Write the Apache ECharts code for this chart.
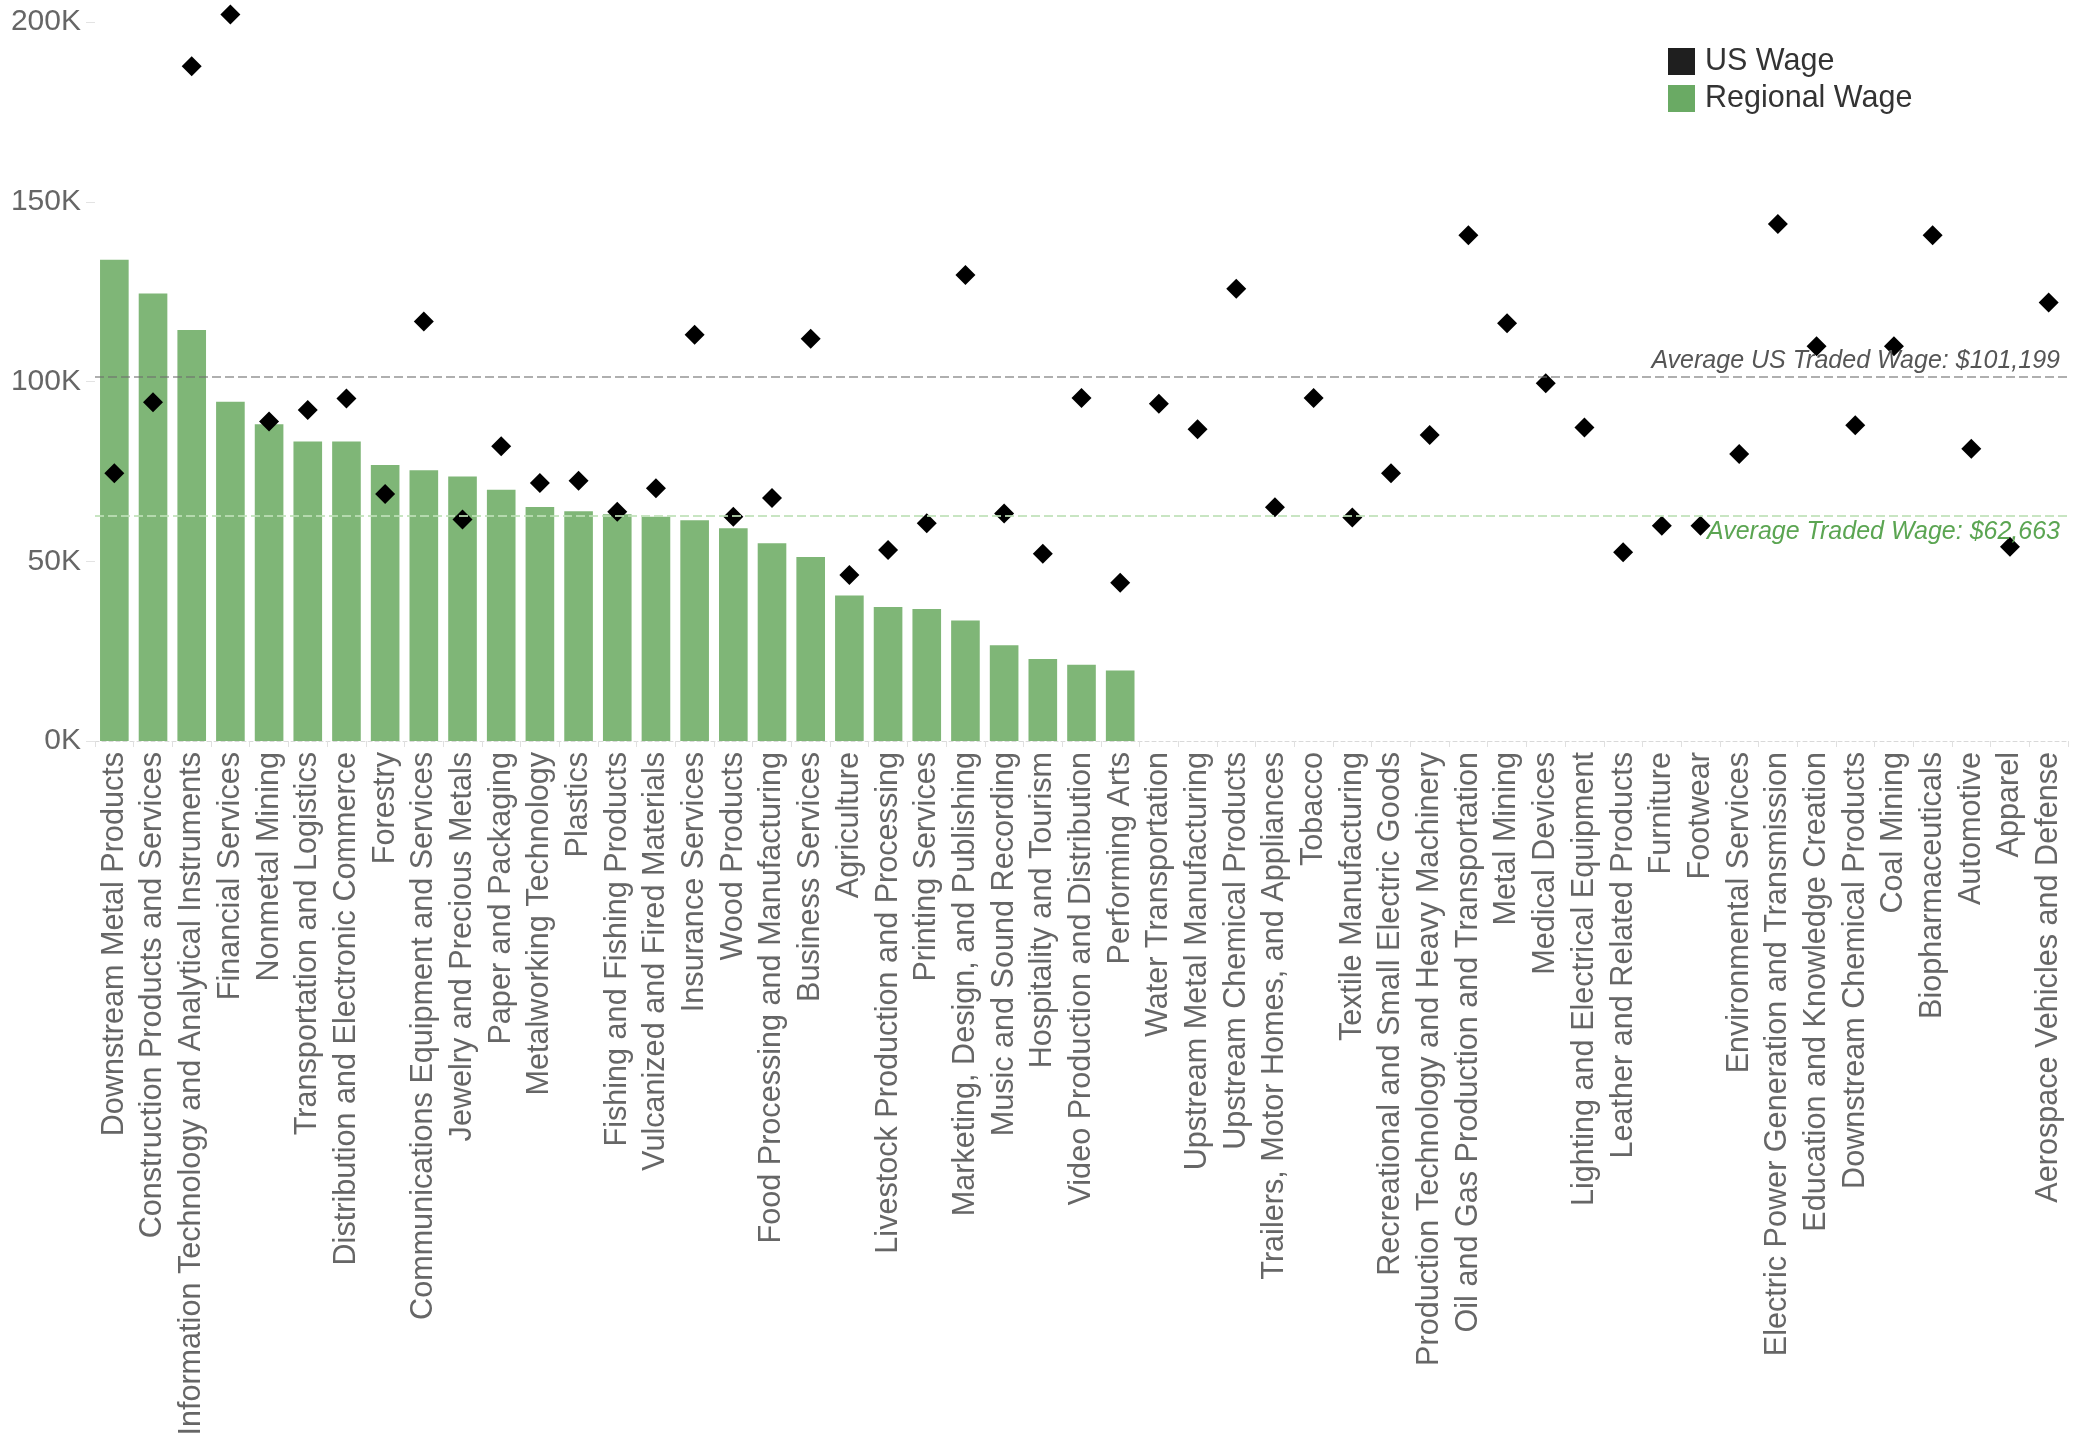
<!DOCTYPE html>
<html>
<head>
<meta charset="utf-8">
<title>Regional vs US Wage by Cluster</title>
<script src="https://cdn.jsdelivr.net/npm/echarts@6/dist/echarts.min.js"></script>
<style>
  html, body { margin: 0; padding: 0; background: #fff; }
  #main { width: 2074px; height: 1440px; }
</style>
</head>
<body>
<div id="main"></div>
<script>
// cluster names, in the order they sit on the x axis
const clusters = [
  'Downstream Metal Products', 'Construction Products and Services',
  'Information Technology and Analytical Instruments', 'Financial Services',
  'Nonmetal Mining', 'Transportation and Logistics',
  'Distribution and Electronic Commerce', 'Forestry',
  'Communications Equipment and Services', 'Jewelry and Precious Metals',
  'Paper and Packaging', 'Metalworking Technology', 'Plastics',
  'Fishing and Fishing Products', 'Vulcanized and Fired Materials',
  'Insurance Services', 'Wood Products', 'Food Processing and Manufacturing',
  'Business Services', 'Agriculture', 'Livestock Production and Processing',
  'Printing Services', 'Marketing, Design, and Publishing',
  'Music and Sound Recording', 'Hospitality and Tourism',
  'Video Production and Distribution', 'Performing Arts',
  'Water Transportation', 'Upstream Metal Manufacturing',
  'Upstream Chemical Products', 'Trailers, Motor Homes, and Appliances',
  'Tobacco', 'Textile Manufacturing', 'Recreational and Small Electric Goods',
  'Production Technology and Heavy Machinery',
  'Oil and Gas Production and Transportation', 'Metal Mining',
  'Medical Devices', 'Lighting and Electrical Equipment',
  'Leather and Related Products', 'Furniture', 'Footwear',
  'Environmental Services', 'Electric Power Generation and Transmission',
  'Education and Knowledge Creation', 'Downstream Chemical Products',
  'Coal Mining', 'Biopharmaceuticals', 'Automotive', 'Apparel',
  'Aerospace Vehicles and Defense'
]

// regional wage (only the first 27 clusters have one)
const regionalWage = [
  133900, 124500, 114300, 94400, 88100, 83300, 83300, 76800, 75300, 73600,
  69900, 65100, 63900, 63100, 62400, 61400, 59200, 55000, 51200, 40500,
  37300, 36700, 33500, 26600, 22800, 21200, 19600
]

// US wage for every cluster
const usWage = [
  74500, 94200, 187700, 202100, 88900, 92100, 95300, 68700, 116700, 61600,
  82000, 71800, 72400, 63800, 70300, 113000, 62400, 67600, 111900, 46200,
  53100, 60600, 129600, 63300, 52100, 95400, 44000, 93800, 86700, 125800,
  65000, 95400, 62200, 74500, 85100, 140700, 116200, 99500, 87200, 52500,
  59900, 59900, 79800, 143800, 109800, 87800, 109800, 140700, 81300, 54000,
  122000
]

const avgUsTradedWage = 101199
const avgTradedWage = 62663

const yTicks = [0, 50000, 100000, 150000, 200000]

const fontFamily = "'Liberation Sans', Arial, sans-serif"

const chart = echarts.init(document.getElementById('main'))

const option = {
  backgroundColor: '#fff',
  animation: false,
  textStyle: { fontFamily: fontFamily },
  grid: {
    left: 95,
    right: 6,
    top: 22,
    bottom: 699,
    containLabel: false,
    outerBoundsMode: 'none'
  },
  legend: {
    orient: 'vertical',
    left: 1668,
    top: 46,
    padding: 0,
    itemWidth: 27,
    itemHeight: 27,
    itemGap: 6,
    icon: 'rect',
    textStyle: {
      fontSize: 30.5,
      lineHeight: 27,
      color: '#333',
      fontFamily: fontFamily,
      padding: [0, 0, 0, 5]
    },
    data: [
      { name: 'US Wage', itemStyle: { color: '#1f1f1f', opacity: 1 } },
      { name: 'Regional Wage', itemStyle: { color: '#6aaa64', opacity: 1 } }
    ]
  },
  xAxis: {
    type: 'category',
    data: clusters,
    boundaryGap: true,
    axisLine: {
      show: true,
      lineStyle: { color: '#d9d9d9', type: [4, 3], width: 1 }
    },
    axisTick: {
      show: true,
      alignWithLabel: false,
      length: 6,
      lineStyle: { color: '#e0e0e0' }
    },
    axisLabel: {
      interval: 0,
      rotate: 90,
      margin: 11,
      fontSize: 30.6,
      color: '#666',
      fontFamily: fontFamily
    },
    splitLine: { show: false }
  },
  yAxis: {
    type: 'value',
    min: yTicks[0],
    max: yTicks[yTicks.length - 1],
    interval: yTicks[1] - yTicks[0],
    axisLine: { show: false },
    axisTick: {
      show: true,
      length: 9,
      lineStyle: { color: '#e3e3e3' }
    },
    axisLabel: {
      fontSize: 30,
      color: '#666',
      margin: 14,
      fontFamily: fontFamily,
      formatter: (v) => v / 1000 + 'K'
    },
    splitLine: { show: false }
  },
  series: [
    {
      name: 'Regional Wage',
      type: 'bar',
      data: regionalWage,
      barCategoryGap: '26%',
      itemStyle: { color: '#7fb677' },
      markLine: {
        silent: true,
        symbol: 'none',
        data: [
          {
            yAxis: avgUsTradedWage,
            lineStyle: { color: 'rgba(110,110,110,0.55)', type: [9, 4], width: 2 },
            label: {
              show: true,
              position: 'insideEndTop',
              distance: [8, 4],
              formatter: 'Average US Traded Wage: $101,199',
              fontSize: 25,
              fontStyle: 'italic',
              color: '#555',
              fontFamily: fontFamily
            }
          },
          {
            yAxis: avgTradedWage,
            lineStyle: { color: 'rgba(190,225,183,0.85)', type: [9, 4], width: 2 },
            label: {
              show: true,
              position: 'insideEndBottom',
              distance: [8, 4],
              formatter: 'Average Traded Wage: $62,663',
              fontSize: 25,
              fontStyle: 'italic',
              color: '#5ba552',
              fontFamily: fontFamily
            }
          }
        ]
      }
    },
    {
      name: 'US Wage',
      type: 'scatter',
      data: usWage,
      symbol: 'diamond',
      symbolSize: 20,
      clip: false,
      itemStyle: { color: '#000', opacity: 1 },
      z: 3
    }
  ]
}

chart.setOption(option)
</script>
</body>
</html>
